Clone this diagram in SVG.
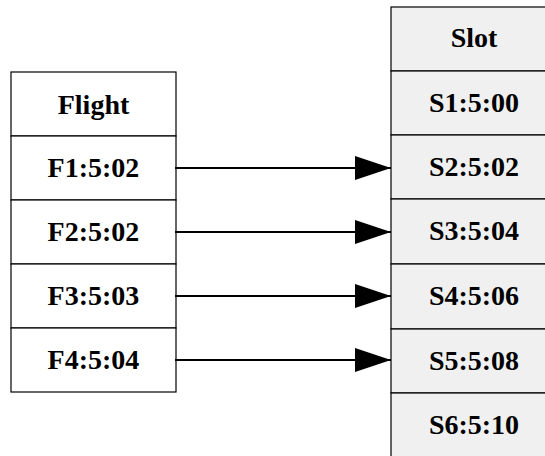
<svg xmlns="http://www.w3.org/2000/svg" width="545" height="456" viewBox="0 0 545 456">
<style>
.cellL{fill:#ffffff;stroke:#000;stroke-width:1.2}
.cellR{fill:#f0f0f0;stroke:#000;stroke-width:1.2}
text{font-family:"Liberation Serif","Times New Roman",serif;font-weight:bold;font-size:28px;text-anchor:middle;fill:#000}
.conn{stroke:#000;stroke-width:2.2;fill:none}
</style>
<defs>
<marker id="ah" markerUnits="userSpaceOnUse" markerWidth="36" markerHeight="24" refX="36" refY="12" orient="auto">
<path d="M0,0 L36,12 L0,24 Z" fill="#000"/>
</marker>
</defs>
<g id="flight-table">
<g id="flight-header"><rect class="cellL" x="11" y="72" width="165" height="64"/><text x="93.5" y="114">Flight</text></g>
<g id="F1"><rect class="cellL" x="11" y="136" width="165" height="64"/><text x="93.5" y="177">F1:5:02</text></g>
<g id="F2"><rect class="cellL" x="11" y="200" width="165" height="64"/><text x="93.5" y="241">F2:5:02</text></g>
<g id="F3"><rect class="cellL" x="11" y="264" width="165" height="64"/><text x="93.5" y="305">F3:5:03</text></g>
<g id="F4"><rect class="cellL" x="11" y="328" width="165" height="64"/><text x="93.5" y="369">F4:5:04</text></g>
</g>
<g id="slot-table">
<g id="slot-header"><rect class="cellR" x="391" y="7" width="170" height="64"/><text x="474" y="47">Slot</text></g>
<g id="S1"><rect class="cellR" x="391" y="71" width="170" height="64"/><text x="474" y="112">S1:5:00</text></g>
<g id="S2"><rect class="cellR" x="391" y="135" width="170" height="64"/><text x="474" y="176">S2:5:02</text></g>
<g id="S3"><rect class="cellR" x="391" y="199" width="170" height="65"/><text x="474" y="240">S3:5:04</text></g>
<g id="S4"><rect class="cellR" x="391" y="264" width="170" height="65"/><text x="474" y="305">S4:5:06</text></g>
<g id="S5"><rect class="cellR" x="391" y="329" width="170" height="64"/><text x="474" y="370">S5:5:08</text></g>
<g id="S6"><rect class="cellR" x="391" y="393" width="170" height="80"/><text x="474" y="434">S6:5:10</text></g>
</g>
<g id="connectors">
<line class="conn" x1="175" y1="168" x2="391" y2="168" marker-end="url(#ah)"/>
<line class="conn" x1="175" y1="232" x2="391" y2="232" marker-end="url(#ah)"/>
<line class="conn" x1="175" y1="296" x2="391" y2="296" marker-end="url(#ah)"/>
<line class="conn" x1="175" y1="360" x2="391" y2="360" marker-end="url(#ah)"/>
</g>
</svg>
